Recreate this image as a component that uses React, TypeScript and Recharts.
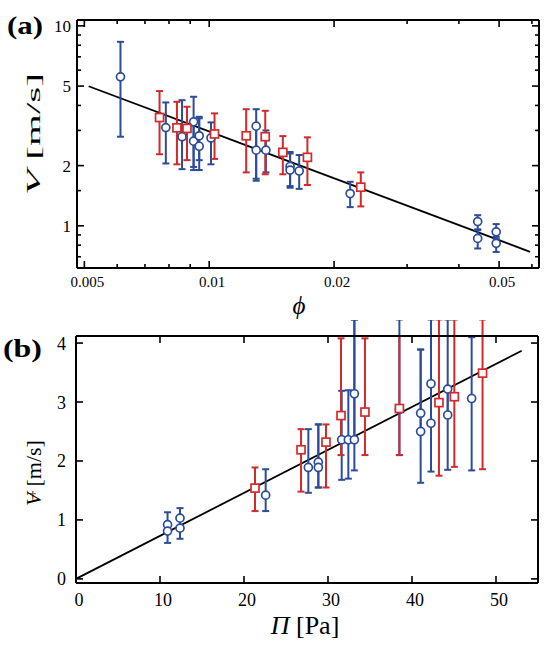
import React from 'react';
import { ComposedChart, Scatter, Line, XAxis, YAxis, ErrorBar } from 'recharts';

const BLUE = '#2b4c9b';
const RED = '#d22a2a';
const FONT = "'Times New Roman', 'Liberation Serif', 'DejaVu Serif', serif";

// ---- panel (a): V against phi, log-log ----
const aBluePhi = [0.00611, 0.00786, 0.0086, 0.00917, 0.00917, 0.00946, 0.00946, 0.0101, 0.01298, 0.01298, 0.0137, 0.01567, 0.01567, 0.01648, 0.02187, 0.0444, 0.0444, 0.0492, 0.0492];
const aBlueV = [5.56, 3.1, 2.79, 3.31, 2.65, 2.82, 2.5, 2.75, 3.15, 2.39, 2.39, 1.98, 1.9, 1.88, 1.45, 1.05, 0.865, 0.933, 0.817];
const aBlueLo = [2.79, 2.05, 1.92, 1.97, 1.9, 2.13, 1.9, 2.03, 1.68, 1.72, 1.85, 1.58, 1.55, 1.53, 1.24, 0.96, 0.77, 0.86, 0.74];
const aBlueHi = [8.32, 4.14, 4.25, 4.42, 3.37, 3.51, 3.45, 3.29, 3.83, 3.2, 3.0, 2.34, 2.3, 2.26, 1.66, 1.13, 0.95, 1.02, 0.88];

const aRedPhi = [0.00759, 0.00836, 0.00884, 0.0103, 0.01228, 0.01365, 0.01505, 0.01725, 0.0232];
const aRedV = [3.48, 3.09, 3.07, 2.88, 2.82, 2.79, 2.33, 2.2, 1.56];
const aRedLo = [2.28, 2.03, 2.13, 2.16, 1.85, 1.81, 1.81, 1.6, 1.25];
const aRedHi = [4.72, 4.17, 3.94, 3.65, 3.83, 3.76, 2.81, 2.77, 1.85];

const aFitPhi = [0.00512, 0.0594];
const aFitV = [4.99, 0.741];

const aXMajor = [0.005, 0.01, 0.02, 0.05];
const aXLabels = ['0.005', '0.01', '0.02', '0.05'];
const aXMinor = [0.006, 0.007, 0.008, 0.009, 0.03, 0.04, 0.06];
const aYMajor = [1, 2, 5, 10];
const aYLabels = ['1', '2', '5', '10'];
const aYMinor = [0.7, 0.8, 0.9, 1.5, 3, 4, 6, 7, 8, 9];

// ---- panel (b): V against Pi, linear ----
const bBluePi = [10.9, 10.9, 12.38, 12.38, 22.58, 27.66, 28.85, 28.85, 31.63, 32.42, 33.14, 33.14, 38.5, 41.03, 41.03, 42.26, 42.26, 44.25, 44.25, 47.1];
const bBlueV = [0.92, 0.81, 1.03, 0.86, 1.42, 1.89, 1.98, 1.89, 2.36, 2.36, 2.36, 3.14, 2.87, 2.81, 2.5, 3.31, 2.64, 3.22, 2.78, 3.06];
const bBlueLo = [0.81, 0.61, 0.86, 0.68, 1.15, 1.46, 1.55, 1.55, 1.68, 1.7, 1.84, 2.36, 2.1, 2.5, 1.63, 2.64, 1.82, 2.78, 1.85, 1.84];
const bBlueHi = [1.13, 0.92, 1.2, 1.03, 1.86, 2.54, 2.62, 2.62, 3.19, 3.2, 4.4, 4.4, 4.4, 3.89, 3.89, 4.4, 3.31, 4.4, 3.22, 4.1];

const bRedPi = [21.31, 26.79, 29.76, 31.55, 34.4, 38.5, 43.21, 45.04, 48.4];
const bRedV = [1.54, 2.19, 2.32, 2.77, 2.83, 2.89, 2.99, 3.09, 3.49];
const bRedLo = [1.15, 1.48, 1.55, 2.1, 2.1, 2.1, 1.75, 1.9, 1.86];
const bRedHi = [1.89, 2.54, 2.62, 4.08, 4.08, 4.12, 4.4, 4.4, 4.4];

const bFitPi = [0, 53.06];
const bFitV = [0, 3.87];

const bXMajor = [0, 10, 20, 30, 40, 50];
const bXLabels = ['0', '10', '20', '30', '40', '50'];
const bYMajor = [0, 1, 2, 3, 4];
const bYLabels = ['0', '1', '2', '3', '4'];

function rows(xs: number[], ys: number[], lo?: number[], hi?: number[]) {
  return xs.map((x, i) => ({
    x,
    y: ys[i],
    err: lo && hi ? [ys[i] - lo[i], hi[i] - ys[i]] : undefined,
  }));
}

const aBlue = rows(aBluePhi, aBlueV, aBlueLo, aBlueHi);
const aRed = rows(aRedPhi, aRedV, aRedLo, aRedHi);
const aFit = rows(aFitPhi, aFitV);
const bBlue = rows(bBluePi, bBlueV, bBlueLo, bBlueHi);
const bRed = rows(bRedPi, bRedV, bRedLo, bRedHi);
const bFit = rows(bFitPi, bFitV);

type Side = 'bottom' | 'top' | 'left' | 'right';

// inward frame ticks, label only on the labelled (major) ones
function makeTick(side: Side, major: number[], labels: string[], fontSize = 18, off = 20) {
  return (props: any) => {
    const { x, y, payload } = props;
    const i = major.indexOf(payload.value);
    const len = i >= 0 ? 7 : 4;
    const lbl = i >= 0 ? labels[i] : '';
    let x2 = x;
    let y2 = y;
    if (side === 'bottom') y2 = y - len;
    if (side === 'top') y2 = y + len;
    if (side === 'left') x2 = x + len;
    if (side === 'right') x2 = x - len;
    return (
      <g>
        <line x1={x} y1={y} x2={x2} y2={y2} stroke="#000" strokeWidth={1.6} />
        {lbl && side === 'bottom' && (
          <text x={x + 3} y={y + off} textAnchor="middle" style={{ fontFamily: FONT }} fontSize={fontSize} fill="#000">
            {lbl}
          </text>
        )}
        {lbl && side === 'left' && (
          <text x={x - off} y={y + fontSize * 0.36} textAnchor="end" style={{ fontFamily: FONT }} fontSize={fontSize} fill="#000">
            {lbl}
          </text>
        )}
      </g>
    );
  };
}

const circle = (color: string) => (p: any) => (
  <circle cx={p.cx} cy={p.cy} r={4} fill="#fff" stroke={color} strokeWidth={1.7} />
);
const square = (color: string) => (p: any) => (
  <rect x={p.cx - 4} y={p.cy - 4} width={8} height={8} fill="#fff" stroke={color} strokeWidth={1.7} />
);

const frame = { stroke: '#000', strokeWidth: 2 };
const txt = { fontFamily: FONT };

function PanelA() {
  const xDomain = [0.0048, 0.0624];
  const yDomain = [0.615, 10.7];
  const xTicks = [...aXMajor, ...aXMinor].sort((p, q) => p - q);
  const yTicks = [...aYMajor, ...aYMinor].sort((p, q) => p - q);
  return (
    <ComposedChart width={558} height={320} margin={{ top: 19, right: 18, bottom: 12, left: 0 }}>
      <XAxis
        type="number" dataKey="x" scale="log" domain={xDomain} allowDataOverflow
        ticks={xTicks} interval={0} tickSize={0} tickMargin={0} tickLine={false}
        tick={makeTick('bottom', aXMajor, aXLabels, 15, 19)} axisLine={frame} height={40}
        label={{
          content: () => (
            <text x={299} y={314} textAnchor="middle" style={txt} fontSize={25} fontStyle="italic" fill="#000">ϕ</text>
          ),
        }}
      />
      <XAxis
        xAxisId="top" orientation="top" type="number" dataKey="x" scale="log" domain={xDomain} allowDataOverflow
        ticks={xTicks} interval={0} tickSize={0} tickMargin={0} tickLine={false}
        tick={makeTick('top', aXMajor, [])} axisLine={frame} height={1}
      />
      <YAxis
        type="number" dataKey="y" scale="log" domain={yDomain} allowDataOverflow
        ticks={yTicks} interval={0} tickSize={0} tickMargin={0} tickLine={false}
        tick={makeTick('left', aYMajor, aYLabels, 17, 6)} axisLine={frame} width={77}
        label={{
          content: () => (
            <g>
              <text
                transform="translate(33,134) rotate(-90)" textAnchor="middle" dominantBaseline="central"
                style={txt} fontSize={19} fill="#000" textLength={122} lengthAdjust="spacingAndGlyphs"
              >
                <tspan fontStyle="italic">V</tspan> [m/s]
              </text>
              <text x={7} y={34} style={txt} fontSize={25} fontWeight="bold" fill="#000" textLength={36} lengthAdjust="spacingAndGlyphs">(a)</text>
            </g>
          ),
        }}
      />
      <YAxis
        yAxisId="right" orientation="right" type="number" dataKey="y" scale="log" domain={yDomain} allowDataOverflow
        ticks={yTicks} interval={0} tickSize={0} tickMargin={0} tickLine={false}
        tick={makeTick('right', aYMajor, [])} axisLine={frame} width={1}
      />
      <Line data={aFit} dataKey="y" stroke="#000" strokeWidth={1.8} dot={false} isAnimationActive={false} />
      <Scatter data={aBlue} dataKey="y" shape={circle(BLUE)} isAnimationActive={false}>
        <ErrorBar dataKey="err" direction="y" width={3.5} stroke={BLUE} strokeWidth={2} />
      </Scatter>
      <Scatter data={aRed} dataKey="y" shape={square(RED)} isAnimationActive={false}>
        <ErrorBar dataKey="err" direction="y" width={3.5} stroke={RED} strokeWidth={2} />
      </Scatter>
    </ComposedChart>
  );
}

function PanelB() {
  const xDomain = [0, 55];
  const yDomain = [-0.07, 4.12];
  return (
    <ComposedChart width={558} height={330} margin={{ top: 15, right: 19, bottom: 27, left: 0 }}>
      <XAxis
        type="number" dataKey="x" domain={xDomain} allowDataOverflow
        ticks={bXMajor} interval={0} tickSize={0} tickMargin={0} tickLine={false}
        tick={makeTick('bottom', bXMajor, bXLabels, 18, 23)} axisLine={frame} height={40}
        label={{
          content: () => (
            <text x={305} y={314} textAnchor="middle" style={txt} fontSize={26} fill="#000">
              <tspan fontStyle="italic">Π</tspan> [Pa]
            </text>
          ),
        }}
      />
      <XAxis
        xAxisId="top" orientation="top" type="number" dataKey="x" domain={xDomain} allowDataOverflow
        ticks={bXMajor} interval={0} tickSize={0} tickMargin={0} tickLine={false}
        tick={makeTick('top', bXMajor, [])} axisLine={frame} height={1}
      />
      <YAxis
        type="number" dataKey="y" domain={yDomain} allowDataOverflow
        ticks={bYMajor} interval={0} tickSize={0} tickMargin={0} tickLine={false}
        tick={makeTick('left', bYMajor, bYLabels, 18, 10)} axisLine={frame} width={76}
        label={{
          content: () => (
            <g>
              <text
                transform="translate(33,153) rotate(-90)" textAnchor="middle" dominantBaseline="central"
                style={txt} fontSize={22} fill="#000"
              >
                <tspan fontStyle="italic">V</tspan>
                <tspan fontSize={13} dx={-7} dy={-8} rotate="90">†</tspan>
                <tspan dx={1} dy={8}> [m/s]</tspan>
              </text>
              <text x={3} y={37} style={txt} fontSize={25} fontWeight="bold" fill="#000" textLength={39} lengthAdjust="spacingAndGlyphs">(b)</text>
            </g>
          ),
        }}
      />
      <YAxis
        yAxisId="right" orientation="right" type="number" dataKey="y" domain={yDomain} allowDataOverflow
        ticks={bYMajor} interval={0} tickSize={0} tickMargin={0} tickLine={false}
        tick={makeTick('right', bYMajor, [])} axisLine={frame} width={1}
      />
      <Line data={bFit} dataKey="y" stroke="#000" strokeWidth={1.8} dot={false} isAnimationActive={false} />
      <Scatter data={bBlue} dataKey="y" shape={circle(BLUE)} isAnimationActive={false}>
        <ErrorBar dataKey="err" direction="y" width={3.5} stroke={BLUE} strokeWidth={2} />
      </Scatter>
      <Scatter data={bRed} dataKey="y" shape={square(RED)} isAnimationActive={false}>
        <ErrorBar dataKey="err" direction="y" width={3.5} stroke={RED} strokeWidth={2} />
      </Scatter>
    </ComposedChart>
  );
}

export default function App() {
  return (
    <div style={{ position: 'absolute', left: 0, top: 0, width: 558, height: 650, background: '#fff' }}>
      <div style={{ position: 'absolute', left: 0, top: 0 }}>
        <PanelA />
      </div>
      <div style={{ position: 'absolute', left: 0, top: 320 }}>
        <PanelB />
      </div>
    </div>
  );
}
